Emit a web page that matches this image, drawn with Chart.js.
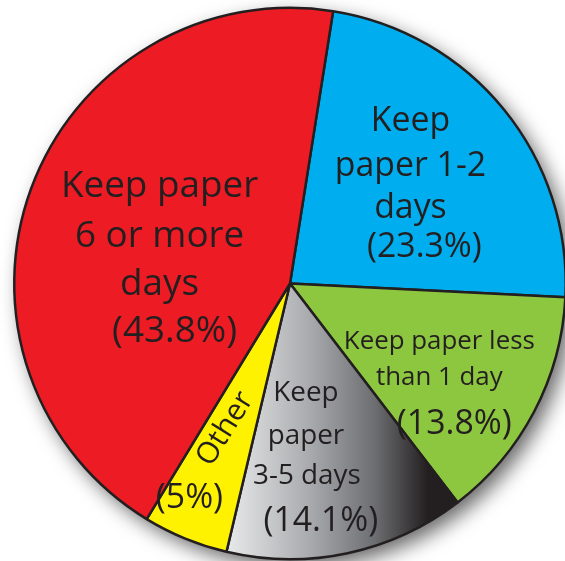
<!DOCTYPE html>
<html>
<head>
<meta charset="utf-8">
<script src="https://cdn.jsdelivr.net/npm/chart.js@4.4.0/dist/chart.umd.min.js"></script>
<style>
html, body { margin: 0; padding: 0; background: #fff; overflow: hidden; }
#wrap { width: 580px; height: 561px; }
</style>
</head>
<body>
<div id="wrap"><canvas id="paperChart"></canvas></div>
<script>
// slices clockwise from the top
const categories = ['Keep paper 1-2 days', 'Keep paper less than 1 day', 'Keep paper 3-5 days', 'Other', 'Keep paper 6 or more days'];
const shares = [23.3, 13.8, 14.1, 5, 43.8];
const sliceColors = ['#00aeef', '#8dc63f', '#a7a9ac', '#fff200', '#ed1c24'];
const labelLines = [
    ['Keep', 'paper 1-2', 'days'],
    ['Keep paper less', 'than 1 day'],
    ['Keep', 'paper', '3-5 days'],
    ['Other'],
    ['Keep paper', '6 or more', 'days']
];

const ink = '#231f20';
const FONT = '"Open Sans", sans-serif';
const REF_R = 277;

// label placement, offsets from the pie centre at a 277px radius
// each entry: [dx, dy, size, rotation] for every text line, then the percentage
const labelPlace = [
    { lines: [[121, -163, 34], [121, -118, 34], [121, -75, 34]], pct: [135, -36, 34] },
    { lines: [[150, 58, 26], [150, 95, 26]], pct: [165, 141, 34] },
    { lines: [[16, 110, 28], [16, 153, 28], [17, 193, 28]], pct: [31, 239, 34] },
    { lines: [[-65, 146, 30, -58]], pct: [-101, 216, 34] },
    { lines: [[-131, -97, 37], [-131, -47, 37], [-131, 1, 37]], pct: [-116, 48, 37] }
];

const shadowAndShade = {
    id: 'shadowAndShade',
    beforeDatasetsDraw(chart) {
        const meta = chart.getDatasetMeta(0);
        const a = meta.data[0];
        if (!a) return;
        const ctx = chart.ctx;
        ctx.save();
        ctx.shadowColor = 'rgba(0,0,0,0.6)';
        ctx.shadowBlur = 20;
        ctx.shadowOffsetX = 7;
        ctx.shadowOffsetY = 8;
        ctx.fillStyle = '#fff';
        ctx.beginPath();
        ctx.arc(a.x, a.y, a.outerRadius, 0, Math.PI * 2);
        ctx.fill();
        ctx.restore();

        // grey slice is shaded light to dark, left to right
        const g = meta.data[2];
        const r = g.outerRadius;
        const grad = ctx.createLinearGradient(g.x - 0.27 * r, 0, g.x + 0.5 * r, 0);
        grad.addColorStop(0, '#f1f2f2');
        grad.addColorStop(0.45, '#a7a9ac');
        grad.addColorStop(0.75, '#6d6e71');
        grad.addColorStop(1, '#231f20');
        g.options.backgroundColor = grad;
    },
    afterDatasetsDraw(chart) {
        const meta = chart.getDatasetMeta(0);
        const ctx = chart.ctx;
        const a = meta.data[0];
        const k = a.outerRadius / REF_R;
        ctx.save();
        ctx.fillStyle = ink;
        ctx.textAlign = 'center';
        ctx.textBaseline = 'middle';
        labelPlace.forEach((p, i) => {
            const texts = labelLines[i].concat(['(' + shares[i] + '%)']);
            const spots = p.lines.concat([p.pct]);
            texts.forEach((t, j) => {
                const s = spots[j];
                ctx.save();
                ctx.translate(a.x + s[0] * k, a.y + s[1] * k);
                if (s[3]) ctx.rotate(s[3] * Math.PI / 180);
                ctx.font = (s[2] * k) + 'px ' + FONT;
                ctx.fillText(t, 0, 0);
                ctx.restore();
            });
        });
        ctx.restore();
    }
};

const ctx = document.getElementById('paperChart').getContext('2d');
new Chart(ctx, {
    type: 'pie',
    data: {
        labels: categories,
        datasets: [{
            data: shares,
            backgroundColor: sliceColors,
            borderColor: ink,
            borderWidth: 2.5
        }]
    },
    options: {
        responsive: true,
        maintainAspectRatio: false,
        animation: false,
        rotation: 9,
        layout: { padding: { left: 13, right: 13, top: 6, bottom: 0 } },
        plugins: {
            legend: { display: false },
            tooltip: { enabled: false }
        }
    },
    plugins: [shadowAndShade]
});
</script>
</body>
</html>
